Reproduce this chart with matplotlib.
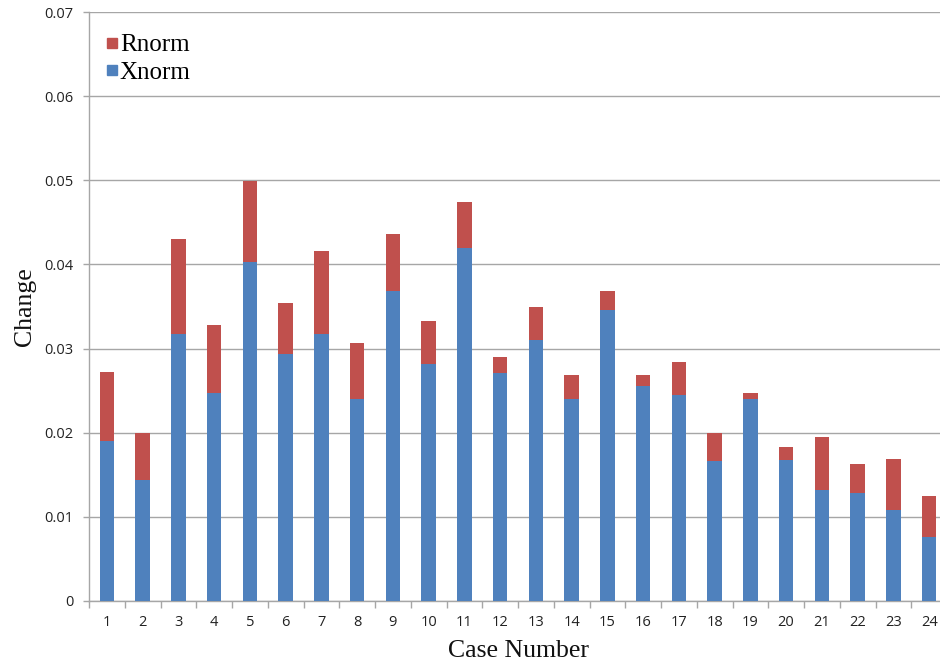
import matplotlib
matplotlib.use("Agg")
import matplotlib.pyplot as plt
from matplotlib.lines import Line2D
import numpy as np

cases = [str(i) for i in range(1, 25)]
xnorm = [0.0190, 0.0144, 0.0317, 0.0247, 0.0403, 0.0294, 0.0317, 0.0240,
         0.0369, 0.0282, 0.0420, 0.0271, 0.0310, 0.0240, 0.0346, 0.0256,
         0.0245, 0.0166, 0.0240, 0.0168, 0.0132, 0.0128, 0.0108, 0.0076]
total = [0.0272, 0.0200, 0.0430, 0.0328, 0.0499, 0.0354, 0.0416, 0.0307,
         0.0436, 0.0333, 0.0474, 0.0290, 0.0350, 0.0268, 0.0369, 0.0269,
         0.0284, 0.0200, 0.0247, 0.0183, 0.0195, 0.0163, 0.0169, 0.0125]
rnorm = [t - x for t, x in zip(total, xnorm)]
yticks = [0, 0.01, 0.02, 0.03, 0.04, 0.05, 0.06, 0.07]
ytick_labels = ["0", "0.01", "0.02", "0.03", "0.04", "0.05", "0.06", "0.07"]

blue = "#4F81BD"
red = "#C0504D"
grid_col = "#A6A6A6"

fig = plt.figure(figsize=(9.4, 6.61), dpi=100)
ax = fig.add_axes([89 / 940, 60 / 661, 858 / 940, 589 / 661])

pos = np.arange(len(cases))
ax.bar(pos, xnorm, width=0.4, color=blue, zorder=3)
ax.bar(pos, rnorm, width=0.4, bottom=xnorm, color=red, zorder=3)

ax.set_xlim(-0.5, len(cases) - 0.5)
ax.set_ylim(0, 0.07)
ax.set_yticks(yticks)
ax.set_yticklabels(ytick_labels, fontfamily="Open Sans", fontsize=10.5,
                   color="#222222")
ax.yaxis.grid(True, color=grid_col, linewidth=1.0, zorder=0)

ax.set_xticks(pos)
ax.set_xticklabels(cases, fontfamily="Open Sans", fontsize=10.5,
                   color="#222222")
ax.set_xticks(np.arange(-0.5, len(cases), 1.0), minor=True)
ax.tick_params(axis="x", which="major", length=0, pad=10)
ax.tick_params(axis="x", which="minor", length=5, color=grid_col, width=1)
ax.tick_params(axis="y", length=4, color=grid_col, width=1, pad=7)

for side in ["top", "right"]:
    ax.spines[side].set_visible(False)
for side in ["left", "bottom"]:
    ax.spines[side].set_color(grid_col)
    ax.spines[side].set_linewidth(1.0)

ax.set_xlabel("Case Number", fontfamily="Liberation Serif", fontsize=18.5,
              labelpad=7, color="#111111")
ax.set_ylabel("Change", fontfamily="Liberation Serif", fontsize=18.5,
              labelpad=6, color="#111111")

handles = [
    Line2D([], [], marker="s", linestyle="none", color=red, markersize=6.5),
    Line2D([], [], marker="s", linestyle="none", color=blue, markersize=6.5),
]
ax.legend(handles, ["Rnorm", "Xnorm"], loc="upper left",
          bbox_to_anchor=(0.02, 0.963), frameon=False,
          prop={"family": "Liberation Serif", "size": 18},
          handlelength=0.5, handletextpad=0.05, labelspacing=0.2,
          borderaxespad=0.0, borderpad=0.0)

fig.savefig("out.png", dpi=100)
